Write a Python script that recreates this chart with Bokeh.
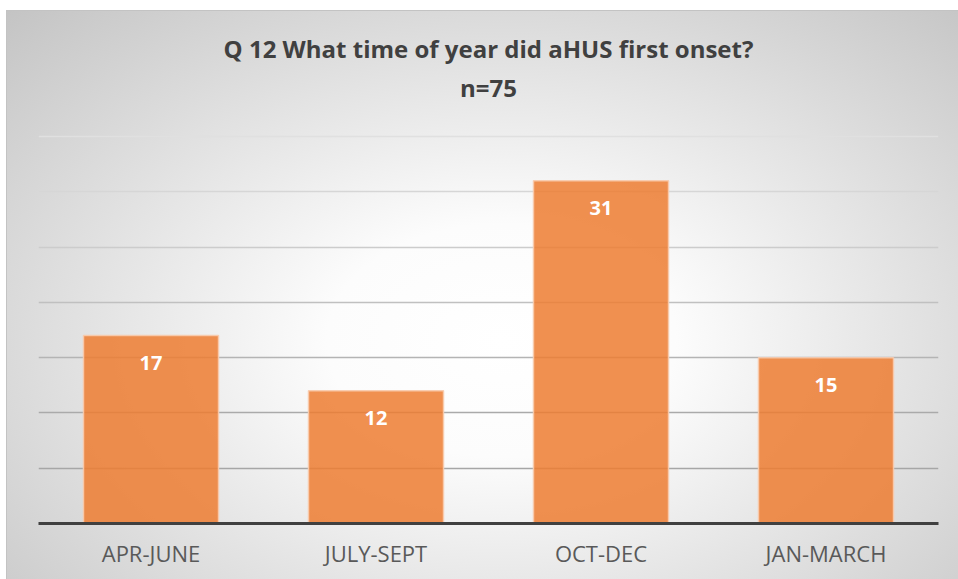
from bokeh.plotting import figure
from bokeh.models import FixedTicker, Grid, ColumnDataSource, LabelSet, Title
from bokeh.core.properties import value
from bokeh.embed import file_html
from bokeh.resources import INLINE

categories = ["APR-JUNE", "JULY-SEPT", "OCT-DEC", "JAN-MARCH"]
counts = [17, 12, 31, 15]
grid_ticks = [5, 10, 15, 20, 25, 30, 35]
title_line1 = "Q 12 What time of year did aHUS first onset?"
title_line2 = "n=75"

FONT = "Open Sans"

# headroom above the top gridline keeps the subtitle close to the grid
p = figure(x_range=categories, y_range=(0, 37.89), width=951, height=568,
           output_backend="svg", toolbar_location=None,
           min_border_left=31, min_border_right=20,
           min_border_top=93, min_border_bottom=56)
p.margin = (11, 0, 0, 7)
p.styles = {
    "background-image": "radial-gradient(ellipse farthest-corner at 52% 58%, #ffffff 0%, #fcfcfc 25%, #c4c4c4 100%)",
    "outline": "1px solid #c3c3c3",
}
p.background_fill_alpha = 0
p.border_fill_alpha = 0
p.outline_line_color = None

# titles: the added one sits nearest the plot
p.title.text = title_line1
p.title.align = "center"
p.title.text_font = FONT
p.title.text_font_size = "24px"
p.title.text_font_style = "bold"
p.title.text_color = "#404040"
p.title.standoff = 7
t2 = Title(text=title_line2, align="center", text_font=FONT,
           text_font_size="24px", text_font_style="bold", text_color="#404040", standoff=1)
p.add_layout(t2, "above")

# axes
p.yaxis.visible = False
p.xgrid.visible = False
p.ygrid.visible = False
ax = p.xaxis[0]
ax.axis_line_color = "#404040"
ax.axis_line_width = 3
ax.major_tick_line_color = None
ax.minor_tick_line_color = None
ax.major_label_text_font = FONT
ax.major_label_text_font_size = "22px"
ax.major_label_text_color = "#595959"
ax.major_label_standoff = 8

# gridlines, lighter towards the top
shades = ["#a6a6a6", "#aaaaaa", "#b4b4b4", "#c0c0c0", "#cccccc", "#d6d6d6", "#e0e0e0"]
for t, c in zip(grid_ticks, shades):
    g = Grid(dimension=1, ticker=FixedTicker(ticks=[t]), grid_line_color=c, grid_line_width=1.5)
    p.add_layout(g, "center")

src = ColumnDataSource(dict(cat=categories, n=counts, lab=[str(v) for v in counts]))
p.vbar(x="cat", top="n", width=0.6, source=src, fill_color="#ED7D31", fill_alpha=0.85,
       line_color="#F8CBAD", line_width=1.5, line_alpha=0.9)

labels = LabelSet(x="cat", y="n", text="lab", source=src, text_align="center",
                  text_baseline="middle", y_offset=-27, text_color="white",
                  text_font=value(FONT), text_font_style="bold", text_font_size="20px")
p.add_layout(labels)

open("out.html", "w").write(file_html(p, INLINE))
